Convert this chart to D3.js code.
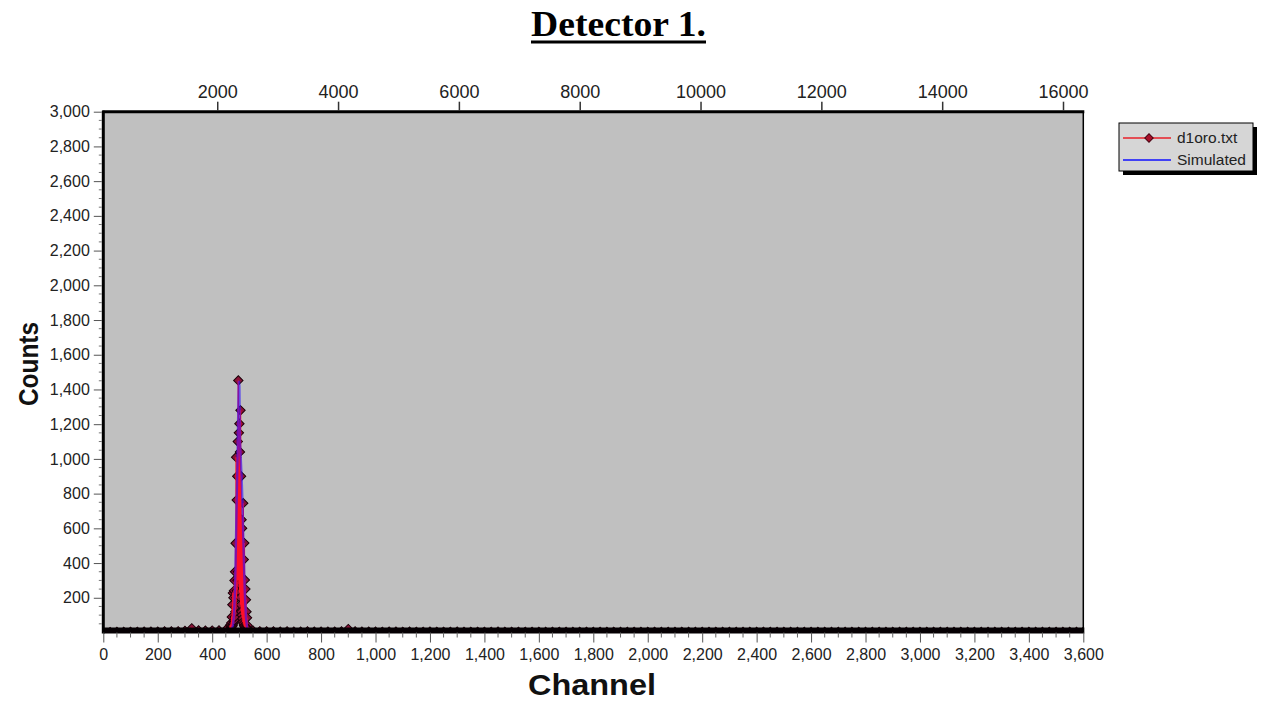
<!DOCTYPE html>
<html>
<head>
<meta charset="utf-8">
<script src="https://cdn.jsdelivr.net/npm/d3@7"></script>
<style>
  html, body { margin: 0; padding: 0; background: #ffffff; }
  svg { display: block; }
</style>
</head>
<body>
<svg id="chart" width="1266" height="705"></svg>
<script>
// Measured spectrum, detector 1: low-energy background (channels 0..450, every 25)
const expLowCounts = [0, 2, 3, 3, 4, 4, 5, 5, 5, 6, 6, 7, 9, 24, 12, 10, 11, 12, 15];
// Gold peak region, one sample per channel (464..534)
const peakStart = 464;
const peakCounts = [
  12, 20, 40, 14, 45, 22, 55, 18, 90, 35,      // 464-473
  160, 40, 227, 50, 200, 60, 240, 70, 300, 90,  // 474-483
  350, 120, 514, 150, 1010, 200, 763, 240, 900, 300, // 484-493
  1100, 350, 1452, 300, 1150, 280, 1203, 230, 1040, 200, // 494-503
  1280, 160, 900, 120, 650, 100, 600, 80, 520, 60, // 504-513
  745, 50, 420, 40, 515, 35, 303, 30, 250, 25,  // 514-523
  188, 20, 120, 18, 85, 14, 40, 12, 20, 10,     // 524-533
  12                                             // 534
];
// High-energy tail (channels 550..3600, every 25)
const expHighCounts = [
  10, 7, 6, 6, 5, 6, 5, 5, 6, 5, 5, 5, 5, 6, 20, 6, 5, 5, 5, 4,
  5, 5, 4, 5, 4, 4, 5, 4, 4, 4, 5, 4, 4, 4, 4, 4, 5, 4, 4, 4,
  4, 4, 4, 3, 4, 4, 4, 3, 4, 4, 3, 4, 3, 4, 3, 3, 4, 3, 3, 4,
  3, 3, 3, 4, 3, 3, 3, 3, 4, 3, 3, 3, 3, 3, 3, 4, 3, 3, 3, 3,
  3, 3, 3, 3, 3, 3, 3, 3, 3, 3, 3, 3, 3, 3, 3, 3, 3, 3, 3, 3,
  3, 3, 3, 3, 3, 3, 3, 3, 3, 3, 3, 3, 3, 3, 3, 3, 3, 3, 3, 3,
  3, 3, 3, 3
];
// Simulated spectrum
const simChannels = [0, 300, 460, 470, 476, 480, 484, 487, 490, 493, 496, 498, 500, 502, 505, 508, 511, 514, 517, 520, 524, 528, 532, 540, 3600];
const simCounts   = [2, 4, 3, 10, 40, 100, 250, 500, 760, 1000, 1300, 1450, 1420, 1100, 1000, 900, 760, 560, 380, 220, 90, 30, 10, 2, 2];

// Axis tick values
const yTicks = [200, 400, 600, 800, 1000, 1200, 1400, 1600, 1800, 2000, 2200, 2400, 2600, 2800, 3000];
const xTicks = [0, 200, 400, 600, 800, 1000, 1200, 1400, 1600, 1800, 2000, 2200, 2400, 2600, 2800, 3000, 3200, 3400, 3600];
const topTicks = [2000, 4000, 6000, 8000, 10000, 12000, 14000, 16000];
const seriesNames = ["d1oro.txt", "Simulated"];

// Assemble measured points along the channel grid
const expData = [];
expLowCounts.forEach((c, i) => expData.push({ch: i * 25, c}));
peakCounts.forEach((c, i) => expData.push({ch: peakStart + i, c}));
expHighCounts.forEach((c, i) => expData.push({ch: 550 + i * 25, c}));
const simData = simChannels.map((ch, i) => ({ch, c: simCounts[i]}));

const svg = d3.select("#chart");
const L = 103.3, R = 1083.3, T = 111.7, B = 632.5;

const x = d3.scaleLinear().domain([0, 3600]).range([L, R]);
const y = d3.scaleLinear().domain([0, 3000]).range([B, T]);
const xTop = d3.scaleLinear().domain([114, 16336]).range([L, R]);

// Title
svg.append("text")
  .attr("x", 618.5).attr("y", 36)
  .attr("text-anchor", "middle")
  .attr("font-family", "'Liberation Serif', 'Times New Roman', serif")
  .attr("font-weight", "bold")
  .attr("font-size", 36)
  .attr("textLength", 175).attr("lengthAdjust", "spacingAndGlyphs")
  .text("Detector 1.");
svg.append("line")
  .attr("x1", 531).attr("x2", 706)
  .attr("y1", 42).attr("y2", 42)
  .attr("stroke", "#000").attr("stroke-width", 3);

// Plot background
svg.append("rect")
  .attr("x", L).attr("y", T).attr("width", R - L).attr("height", B - T)
  .attr("fill", "#c0c0c0");

svg.append("clipPath").attr("id", "plotclip")
  .append("rect").attr("x", L).attr("y", T).attr("width", R - L).attr("height", B - T);

const plot = svg.append("g").attr("clip-path", "url(#plotclip)");

const line = d3.line().x(d => x(d.ch)).y(d => y(d.c));
const marker = d3.symbol().type(d3.symbolSquare).size(44);

// Measured series markers (diamonds)
plot.selectAll("path.mk").data(expData).join("path")
  .attr("class", "mk")
  .attr("transform", d => `translate(${x(d.ch)},${y(d.c)}) rotate(45)`)
  .attr("d", marker)
  .attr("fill", "#8a1238")
  .attr("stroke", "#1a0008")
  .attr("stroke-width", 1);

// Measured series line
plot.append("path").datum(expData)
  .attr("d", line)
  .attr("fill", "none")
  .attr("stroke", "#ff1028")
  .attr("stroke-width", 1.5);

// Simulated series line
plot.append("path").datum(simData)
  .attr("d", line)
  .attr("fill", "none")
  .attr("stroke", "#2a10ff")
  .attr("stroke-width", 2.4)
  .attr("stroke-opacity", 0.6);

// Heavy bottom frame of the plot area
svg.append("rect")
  .attr("x", L).attr("y", B - 5).attr("width", R - L + 1).attr("height", 6)
  .attr("fill", "#050003");

// Frame
svg.append("line").attr("x1", L).attr("x2", L).attr("y1", T - 1).attr("y2", B + 1)
  .attr("stroke", "#000").attr("stroke-width", 3);
svg.append("line").attr("x1", L - 1).attr("x2", R + 1).attr("y1", T).attr("y2", T)
  .attr("stroke", "#000").attr("stroke-width", 3);
svg.append("line").attr("x1", R).attr("x2", R).attr("y1", T).attr("y2", B)
  .attr("stroke", "#000").attr("stroke-width", 1.5);

const fmt = d3.format(",");
const sans = "'Liberation Sans', Arial, sans-serif";

// Left axis
const yAxis = d3.axisLeft(y).tickValues(yTicks).tickFormat(fmt).tickSize(8).tickPadding(4);
const gy = svg.append("g").attr("transform", `translate(${L - 1.5},0)`).call(yAxis);
gy.select(".domain").remove();
gy.selectAll("text").attr("font-family", sans).attr("font-size", 16).attr("fill", "#222");
gy.selectAll("line").attr("stroke", "#555");
const yMinor = d3.range(0, 3001, 50).filter(v => v % 200 !== 0);
svg.append("g").selectAll("line").data(yMinor).join("line")
  .attr("x1", L - 4.5).attr("x2", L - 1.5)
  .attr("y1", d => y(d)).attr("y2", d => y(d))
  .attr("stroke", "#777").attr("stroke-width", 1);

// Bottom axis
const xAxis = d3.axisBottom(x).tickValues(xTicks).tickFormat(fmt).tickSize(10).tickPadding(6);
const gx = svg.append("g").attr("transform", `translate(0,${B})`).call(xAxis);
gx.select(".domain").remove();
gx.selectAll("text").attr("font-family", sans).attr("font-size", 16).attr("fill", "#222");
gx.selectAll("line").attr("stroke", "#555");
const xMinor = d3.range(0, 3601, 50).filter(v => v % 200 !== 0);
svg.append("g").selectAll("line").data(xMinor).join("line")
  .attr("x1", d => x(d)).attr("x2", d => x(d))
  .attr("y1", B).attr("y2", B + 5)
  .attr("stroke", "#666").attr("stroke-width", 1);

// Top axis (energy)
const topAxis = d3.axisTop(xTop).tickValues(topTicks).tickFormat(d3.format("d")).tickSize(9).tickPadding(4);
const gt = svg.append("g").attr("transform", `translate(0,${T - 1})`).call(topAxis);
gt.select(".domain").remove();
gt.selectAll("text").attr("font-family", sans).attr("font-size", 18).attr("fill", "#222");
gt.selectAll("line").attr("stroke", "#333").attr("stroke-width", 1.5);

// Axis titles
svg.append("text")
  .attr("x", 592).attr("y", 695)
  .attr("text-anchor", "middle")
  .attr("font-family", sans).attr("font-weight", "bold")
  .attr("font-size", 29)
  .attr("textLength", 128).attr("lengthAdjust", "spacingAndGlyphs")
  .attr("fill", "#111")
  .text("Channel");
svg.append("text")
  .attr("transform", "translate(38,364) rotate(-90)")
  .attr("text-anchor", "middle")
  .attr("font-family", sans).attr("font-weight", "bold")
  .attr("font-size", 28)
  .attr("textLength", 84).attr("lengthAdjust", "spacingAndGlyphs")
  .attr("fill", "#111")
  .text("Counts");

// Legend
const lg = svg.append("g");
lg.append("rect").attr("x", 1123).attr("y", 127).attr("width", 134).attr("height", 48).attr("fill", "#000");
lg.append("rect").attr("x", 1119).attr("y", 123).attr("width", 134).attr("height", 48)
  .attr("fill", "#d6d6d6").attr("stroke", "#000").attr("stroke-width", 1);
const legendColors = ["#e8202a", "#1010ff"];
const legendY = [138, 160];
seriesNames.forEach((name, i) => {
  lg.append("line").attr("x1", 1123).attr("x2", 1171)
    .attr("y1", legendY[i]).attr("y2", legendY[i])
    .attr("stroke", legendColors[i]).attr("stroke-width", 1.5);
  if (i === 0) {
    lg.append("path").attr("transform", `translate(1149,${legendY[i]}) rotate(45)`)
      .attr("d", d3.symbol().type(d3.symbolSquare).size(36))
      .attr("fill", "#a8102a").attr("stroke", "#4a0010");
  }
  lg.append("text").attr("x", 1177).attr("y", legendY[i] + 5)
    .attr("font-family", sans).attr("font-size", 15.5)
    .attr("fill", "#222")
    .text(name);
});
</script>
</body>
</html>
